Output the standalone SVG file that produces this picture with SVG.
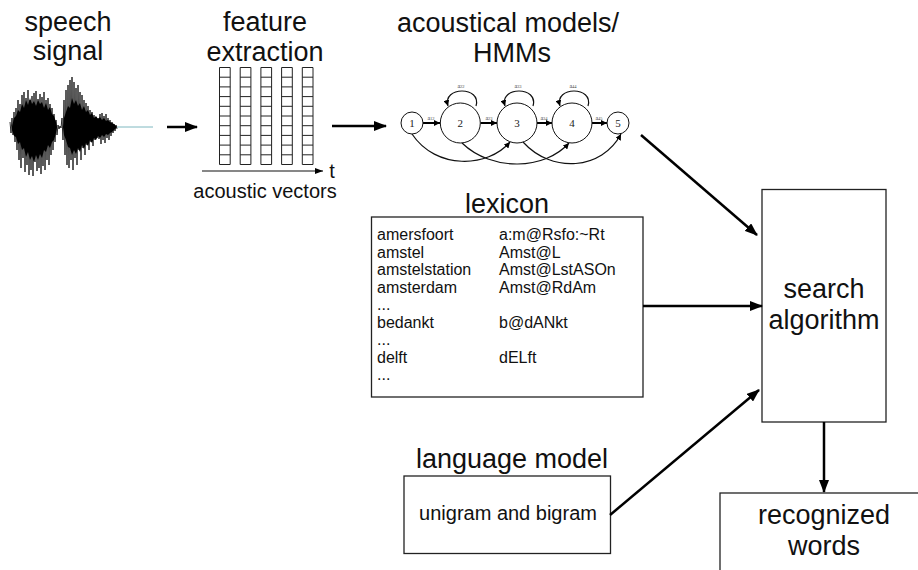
<svg xmlns="http://www.w3.org/2000/svg" width="918" height="570" viewBox="0 0 918 570">
<defs>
<style>
.t27{font-family:"Liberation Sans",Arial,sans-serif;font-size:27px;fill:#111;text-anchor:middle}
.t20{font-family:"Liberation Sans",Arial,sans-serif;font-size:20px;fill:#111;text-anchor:middle}
.t16{font-family:"Liberation Sans",Arial,sans-serif;font-size:16px;fill:#111}
.num{font-family:"Liberation Serif","Times New Roman",serif;font-size:11px;fill:#222;text-anchor:middle}
.lab{font-family:"Liberation Serif","Times New Roman",serif;font-size:6px;fill:#444;text-anchor:middle}
.box{fill:#fff;stroke:#222;stroke-width:1.3}
.st{fill:#fff;stroke:#111;stroke-width:1}
.conn{fill:none;stroke:#000;stroke-width:2.5}
.thin{fill:none;stroke:#111;stroke-width:1.2}
.fwd{fill:none;stroke:#000;stroke-width:2}
</style>
<marker id="ah" markerUnits="userSpaceOnUse" markerWidth="13" markerHeight="10" refX="12" refY="5" orient="auto">
<path d="M0,0 L13,5 L0,10 Z" fill="#000"/>
</marker>
<marker id="as" markerUnits="userSpaceOnUse" markerWidth="6" markerHeight="6" refX="6" refY="3" orient="auto">
<path d="M0,0 L6,3 L0,6 Z" fill="#000"/>
</marker>
<marker id="at" markerUnits="userSpaceOnUse" markerWidth="8" markerHeight="6" refX="8" refY="3" orient="auto">
<path d="M0,0 L8,3 L0,6 Z" fill="#000"/>
</marker>
<g id="loop">
<path d="M476,106 C482,86 442,86 448,106" class="thin" marker-end="url(#as)"/>
</g>
</defs>
<rect x="0" y="0" width="918" height="570" fill="#fff"/>

<g id="speech-signal">
<text class="t27" x="68" y="31">speech</text>
<text class="t27" x="68" y="60">signal</text>
<path d="M117,127 L153,127" stroke="#7fb8c0" stroke-width="1" fill="none"/>
<path d="M12,127 L14,118 L16,116 L18,110 L20,112 L22,104 L24,108 L26,100 L28,105 L30,98 L32,104 L34,101 L36,106 L38,100 L40,104 L42,102 L44,108 L46,103 L48,110 L50,107 L52,114 L54,116 L56,122 L57,127 L56,133 L54,140 L52,142 L50,148 L48,145 L46,152 L44,150 L42,158 L40,154 L38,160 L36,155 L34,162 L32,156 L30,160 L28,152 L26,157 L24,148 L22,150 L20,142 L18,144 L16,137 L14,136 L12,130 Z" fill="#000"/>
<path d="M63,127 L64,118 L66,112 L68,106 L70,108 L72,98 L74,104 L76,100 L78,106 L80,103 L82,110 L84,106 L86,112 L88,110 L90,115 L92,113 L94,118 L96,116 L98,119 L100,117 L102,120 L104,118 L106,121 L108,120 L110,122 L112,123 L114,124 L117,127 L114,130 L112,132 L110,133 L108,135 L106,134 L104,137 L102,135 L100,138 L98,136 L96,140 L94,138 L92,143 L90,140 L88,146 L86,143 L84,149 L82,145 L80,152 L78,148 L76,154 L74,150 L72,155 L70,148 L68,147 L66,140 L64,135 Z" fill="#000"/>
<path d="M10,122 L11,133 L12,118 L13,135 L14,112 L15,142 L16,108 L17,150 L18,100 L19,160 L20,104 L21,168 L22,95 L23,158 L24,92 L25,172 L26,98 L27,165 L28,90 L29,175 L30,100 L31,170 L32,96 L33,176 L34,93 L35,162 L36,91 L37,171 L38,99 L39,168 L40,94 L41,174 L42,97 L43,166 L44,92 L45,170 L46,100 L47,160 L48,98 L49,165 L50,104 L51,155 L52,108 L53,150 L54,114 L55,142 L56,120 L57,135 L58,125 L59,129 L60,126 L61,128 L62,118 L63,140 L64,100 L65,155 L66,90 L67,165 L68,85 L69,168 L70,80 L71,160 L72,77 L73,170 L74,82 L75,158 L76,88 L77,165 L78,85 L79,150 L80,92 L81,160 L82,95 L83,148 L84,100 L85,155 L86,103 L87,145 L88,106 L89,150 L90,110 L91,142 L92,112 L93,146 L94,115 L95,140 L96,117 L97,138 L98,118 L99,139 L100,114 L101,144 L102,113 L103,140 L104,116 L105,143 L106,114 L107,138 L108,118 L109,140 L110,120 L111,136 L112,122 L113,133 L114,124 L115,131 L116,125 L117,129" fill="none" stroke="#000" stroke-width="0.8"/>
</g>

<g id="feature-extraction">
<text class="t27" x="265" y="31">feature</text>
<text class="t27" x="265" y="61">extraction</text>
<path d="M219.5,67.5 h10.7 v97 h-10.7 Z M240.2,67.5 h10.7 v97 h-10.7 Z M260.9,67.5 h10.7 v97 h-10.7 Z M281.6,67.5 h10.7 v97 h-10.7 Z M302.3,67.5 h10.7 v97 h-10.7 Z" fill="#fff" stroke="#222" stroke-width="1"/>
<path d="M219.5,77.2 h10.7 M219.5,86.9 h10.7 M219.5,96.6 h10.7 M219.5,106.3 h10.7 M219.5,116 h10.7 M219.5,125.7 h10.7 M219.5,135.4 h10.7 M219.5,145.1 h10.7 M219.5,154.8 h10.7
M240.2,77.2 h10.7 M240.2,86.9 h10.7 M240.2,96.6 h10.7 M240.2,106.3 h10.7 M240.2,116 h10.7 M240.2,125.7 h10.7 M240.2,135.4 h10.7 M240.2,145.1 h10.7 M240.2,154.8 h10.7
M260.9,77.2 h10.7 M260.9,86.9 h10.7 M260.9,96.6 h10.7 M260.9,106.3 h10.7 M260.9,116 h10.7 M260.9,125.7 h10.7 M260.9,135.4 h10.7 M260.9,145.1 h10.7 M260.9,154.8 h10.7
M281.6,77.2 h10.7 M281.6,86.9 h10.7 M281.6,96.6 h10.7 M281.6,106.3 h10.7 M281.6,116 h10.7 M281.6,125.7 h10.7 M281.6,135.4 h10.7 M281.6,145.1 h10.7 M281.6,154.8 h10.7
M302.3,77.2 h10.7 M302.3,86.9 h10.7 M302.3,96.6 h10.7 M302.3,106.3 h10.7 M302.3,116 h10.7 M302.3,125.7 h10.7 M302.3,135.4 h10.7 M302.3,145.1 h10.7 M302.3,154.8 h10.7" fill="none" stroke="#222" stroke-width="1"/>
<path d="M202,171 L323,171" fill="none" stroke="#111" stroke-width="1.2" marker-end="url(#at)"/>
<text class="t20" x="332" y="178">t</text>
<text class="t20" x="265" y="198">acoustic vectors</text>
</g>

<g id="hmm">
<text class="t27" x="508" y="32">acoustical models/</text>
<text class="t27" x="512" y="62">HMMs</text>
<g id="self-loops">
<use href="#loop"/>
<use href="#loop" transform="translate(57,0)"/>
<use href="#loop" transform="translate(112,0)"/>
<text class="lab" x="461" y="88">a<tspan font-size="4.5">22</tspan></text>
<text class="lab" x="518" y="88">a<tspan font-size="4.5">33</tspan></text>
<text class="lab" x="573" y="88">a<tspan font-size="4.5">44</tspan></text>
</g>
<g id="skips">
<path class="thin" d="M412,134 C436,170 488,168 510,142" marker-end="url(#as)"/>
<path class="thin" d="M462,143 C492,172 545,170 569,143" marker-end="url(#as)"/>
<path class="thin" d="M523,142 C552,174 602,170 621,134" marker-end="url(#as)"/>
</g>
<g id="forward">
<path class="fwd" d="M423,123 L440,123" marker-end="url(#as)"/>
<path class="fwd" d="M480.5,123 L497,123" marker-end="url(#as)"/>
<path class="fwd" d="M537,123 L552,123" marker-end="url(#as)"/>
<path class="fwd" d="M592,123 L607,123" marker-end="url(#as)"/>
<text class="lab" x="431" y="120">a<tspan font-size="4.5">12</tspan></text>
<text class="lab" x="489" y="120">a<tspan font-size="4.5">23</tspan></text>
<text class="lab" x="544" y="120">a<tspan font-size="4.5">34</tspan></text>
<text class="lab" x="599" y="120">a<tspan font-size="4.5">45</tspan></text>
</g>
<g id="s1"><circle class="st" cx="412" cy="123" r="11"/><text class="num" x="412" y="127">1</text></g>
<g id="s2"><circle class="st" cx="460.3" cy="123" r="20"/><text class="num" x="460.3" y="127">2</text></g>
<g id="s3"><circle class="st" cx="517" cy="123" r="20"/><text class="num" x="517" y="127">3</text></g>
<g id="s4"><circle class="st" cx="572" cy="123" r="20"/><text class="num" x="572" y="127">4</text></g>
<g id="s5"><circle class="st" cx="618" cy="123" r="11"/><text class="num" x="618" y="127">5</text></g>
</g>

<g id="lexicon">
<text class="t27" x="507" y="213">lexicon</text>
<rect class="box" x="371.5" y="217" width="271.5" height="180"/>
<text class="t16" x="377" y="240">amersfoort</text>
<text class="t16" x="377" y="257.5">amstel</text>
<text class="t16" x="377" y="275">amstelstation</text>
<text class="t16" x="377" y="292.5">amsterdam</text>
<text class="t16" x="377" y="310">...</text>
<text class="t16" x="377" y="327.5">bedankt</text>
<text class="t16" x="377" y="345">...</text>
<text class="t16" x="377" y="362.5">delft</text>
<text class="t16" x="377" y="380">...</text>
<text class="t16" x="499" y="240">a:m@Rsfo:~Rt</text>
<text class="t16" x="499" y="257.5">Amst@L</text>
<text class="t16" x="499" y="275">Amst@LstASOn</text>
<text class="t16" x="499" y="292.5">Amst@RdAm</text>
<text class="t16" x="499" y="327.5">b@dANkt</text>
<text class="t16" x="499" y="362.5">dELft</text>
</g>

<g id="language-model">
<text class="t27" x="512" y="468">language model</text>
<rect class="box" x="404" y="476" width="206.5" height="77.5"/>
<text class="t20" x="508" y="520">unigram and bigram</text>
</g>

<g id="search-algorithm">
<rect class="box" x="762" y="189.5" width="124" height="232.5"/>
<text class="t27" x="824" y="298">search</text>
<text class="t27" x="824" y="329">algorithm</text>
</g>

<g id="recognized-words">
<rect class="box" x="720" y="493" width="210" height="100"/>
<text class="t27" x="824" y="524">recognized</text>
<text class="t27" x="824" y="555">words</text>
</g>

<g id="connectors">
<path class="conn" d="M167,127 L197,127" marker-end="url(#ah)"/>
<path class="conn" d="M332,126 L386,126" marker-end="url(#ah)"/>
<path class="conn" d="M641,135 L757,235" marker-end="url(#ah)"/>
<path class="conn" d="M643,306 L762,306" marker-end="url(#ah)"/>
<path class="conn" d="M610,515 L759,390" marker-end="url(#ah)"/>
<path class="conn" d="M824,422 L824,492" marker-end="url(#ah)"/>
</g>
</svg>
